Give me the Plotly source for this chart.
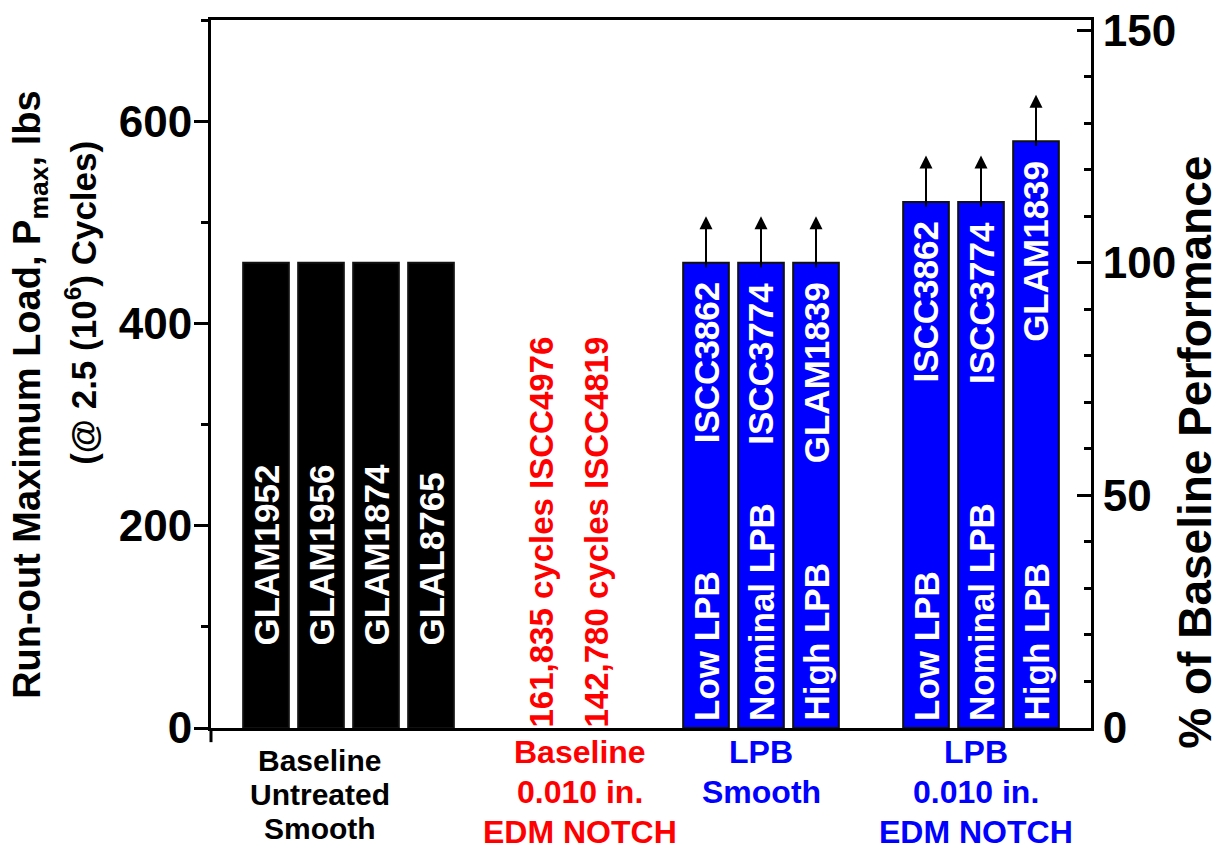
import plotly.graph_objects as go

# groups of specimens
group_names = [
    ["Baseline", "Untreated", "Smooth"],
    ["Baseline", "0.010 in.", "EDM NOTCH"],
    ["LPB", "Smooth"],
    ["LPB", "0.010 in.", "EDM NOTCH"],
]
group_colors = ["black", "#FF0000", "#0000FF", "#0000FF"]

specimens = [
    ["GLAM1952", "GLAM1956", "GLAM1874", "GLAL8765"],
    ["ISCC4976", "ISCC4819"],
    ["ISCC3862", "ISCC3774", "GLAM1839"],
    ["ISCC3862", "ISCC3774", "GLAM1839"],
]
# run-out max load, lbs (0 = failed before run-out)
loads = [
    [460, 460, 460, 460],
    [0, 0],
    [460, 460, 460],
    [520, 520, 580],
]
cycles_to_failure = ["161,835", "142,780"]
lpb_levels = ["Low LPB", "Nominal LPB", "High LPB"]
runout = [False, False, True, True]  # arrows: test stopped, not failed

baseline_load = 460
y_max = 700

FONT = "Liberation Sans, Arial, sans-serif"

# category keys with a spacer between groups
cats = []
keys = []
for gi, specs in enumerate(specimens):
    gk = [f"{gi}-{s}" for s in specs]
    keys.append(gk)
    cats += gk
    if gi < len(specimens) - 1:
        cats.append(f"gap{gi}")

fig = go.Figure()
for gi in [0, 2, 3]:
    fig.add_trace(go.Bar(
        x=keys[gi], y=loads[gi], width=0.83,
        marker=dict(color=group_colors[gi],
                    line=dict(color="#111111", width=2)),
        showlegend=False, hoverinfo="skip",
    ))
# invisible trace on the right axis so it gets drawn
fig.add_trace(go.Scatter(x=[cats[0]], y=[0], yaxis="y2", mode="markers",
                         marker=dict(opacity=0), showlegend=False, hoverinfo="skip"))

ann = []
bar_font = dict(family=FONT, size=35, color="white", weight="bold")
# baseline bar ids
for k, s in zip(keys[0], specimens[0]):
    ann.append(dict(x=k, y=0, text=s, textangle=-90, showarrow=False,
                    yanchor="bottom", yshift=80, font=bar_font))
# failed notched baseline
for k, s, c in zip(keys[1], specimens[1], cycles_to_failure):
    ann.append(dict(x=k, y=0, text=f"{c} cycles {s}", textangle=-90, showarrow=False,
                    yanchor="bottom", yshift=-2,
                    font=dict(family=FONT, size=33, color="#FF0000", weight="bold")))
# LPB bars
for gi in [2, 3]:
    for k, s, v, lvl in zip(keys[gi], specimens[gi], loads[gi], lpb_levels):
        ann.append(dict(x=k, y=v, text=s, textangle=-90, showarrow=False,
                        yanchor="top", yshift=-18, font=bar_font))
        ann.append(dict(x=k, y=0, text=lvl, textangle=-90, showarrow=False,
                        yanchor="bottom", yshift=5, font=bar_font))
        if runout[gi]:
            ann.append(dict(x=k, y=v + 46, ax=k, ay=v - 6, axref="x", ayref="y",
                            text="", showarrow=True, arrowhead=2, arrowsize=1.3,
                            arrowwidth=2, arrowcolor="black"))

# group labels below the axis
group_label_x = [0.98, 5.71, 9.0, 12.9]
for gi, lines in enumerate(group_names):
    size = 30 if gi == 0 else 32
    step = 34 if gi == 0 else 40
    top = -32 if gi == 0 else -24
    for li, line in enumerate(lines):
        ann.append(dict(x=group_label_x[gi], xref="x", y=0, yref="paper",
                        text=line, showarrow=False, yanchor="middle",
                        yshift=top - li * step,
                        font=dict(family=FONT, size=size, color=group_colors[gi], weight="bold")))

# axis titles
title_font = dict(family=FONT, size=38, color="black", weight="bold")
ann.append(dict(x=-0.205, xref="paper", y=0.47, yref="paper", textangle=-90,
                text="Run-out Maximum Load, P<sub>max</sub>, lbs", showarrow=False,
                xanchor="center", yanchor="middle", font=title_font))
ann.append(dict(x=-0.147, xref="paper", y=0.600, yref="paper", textangle=-90,
                text="(@ 2.5 (10<sup>6</sup>) Cycles)", showarrow=False,
                xanchor="center", yanchor="middle", font=dict(title_font, size=35)))
ann.append(dict(x=1.118, xref="paper", y=0.39, yref="paper", textangle=-90,
                text="% of Baseline Performance", showarrow=False,
                xanchor="center", yanchor="middle",
                font=dict(family=FONT, size=46, color="black", weight="bold")))

tick_font = dict(family=FONT, size=44, color="black", weight="bold")
# page body has an 8px margin, so the figure is drawn 8px smaller
fig.update_layout(
    width=1217, height=844,
    margin=dict(l=203, r=134, t=12, b=124),
    plot_bgcolor="white", paper_bgcolor="white",
    barmode="overlay",
    annotations=ann,
    xaxis=dict(type="category", categoryorder="array", categoryarray=cats,
               range=[-1, len(cats)], showticklabels=False, ticks="",
               showgrid=False, zeroline=False, automargin=False,
               showline=True, linecolor="black", linewidth=3, mirror=True),
    yaxis=dict(range=[0, y_max], dtick=200, ticks="outside", ticklen=14,
               tickwidth=3, tickcolor="black", tickfont=tick_font,
               ticklabelstandoff=-7, ticklabeloverflow="allow",
               showgrid=False, zeroline=False, automargin=False,
               showline=True, linecolor="black", linewidth=3,
               minor=dict(dtick=100, ticks="outside", ticklen=7, tickwidth=3,
                          tickcolor="black", showgrid=False)),
    yaxis2=dict(overlaying="y", side="right",
                range=[0, y_max / baseline_load * 100], dtick=50,
                ticks="inside", ticklen=14, tickwidth=3, tickcolor="black",
                tickfont=tick_font, ticklabeloverflow="allow",
                showgrid=False, zeroline=False, automargin=False,
                showline=True, linecolor="black", linewidth=3,
                minor=dict(dtick=10, ticks="inside", ticklen=7, tickwidth=3,
                           tickcolor="black", showgrid=False)),
    shapes=[dict(type="line", xref="paper", yref="paper", x0=0, x1=0,
                 y0=0, y1=-0.02, line=dict(color="black", width=3))],
)

fig.write_html("out.html")
